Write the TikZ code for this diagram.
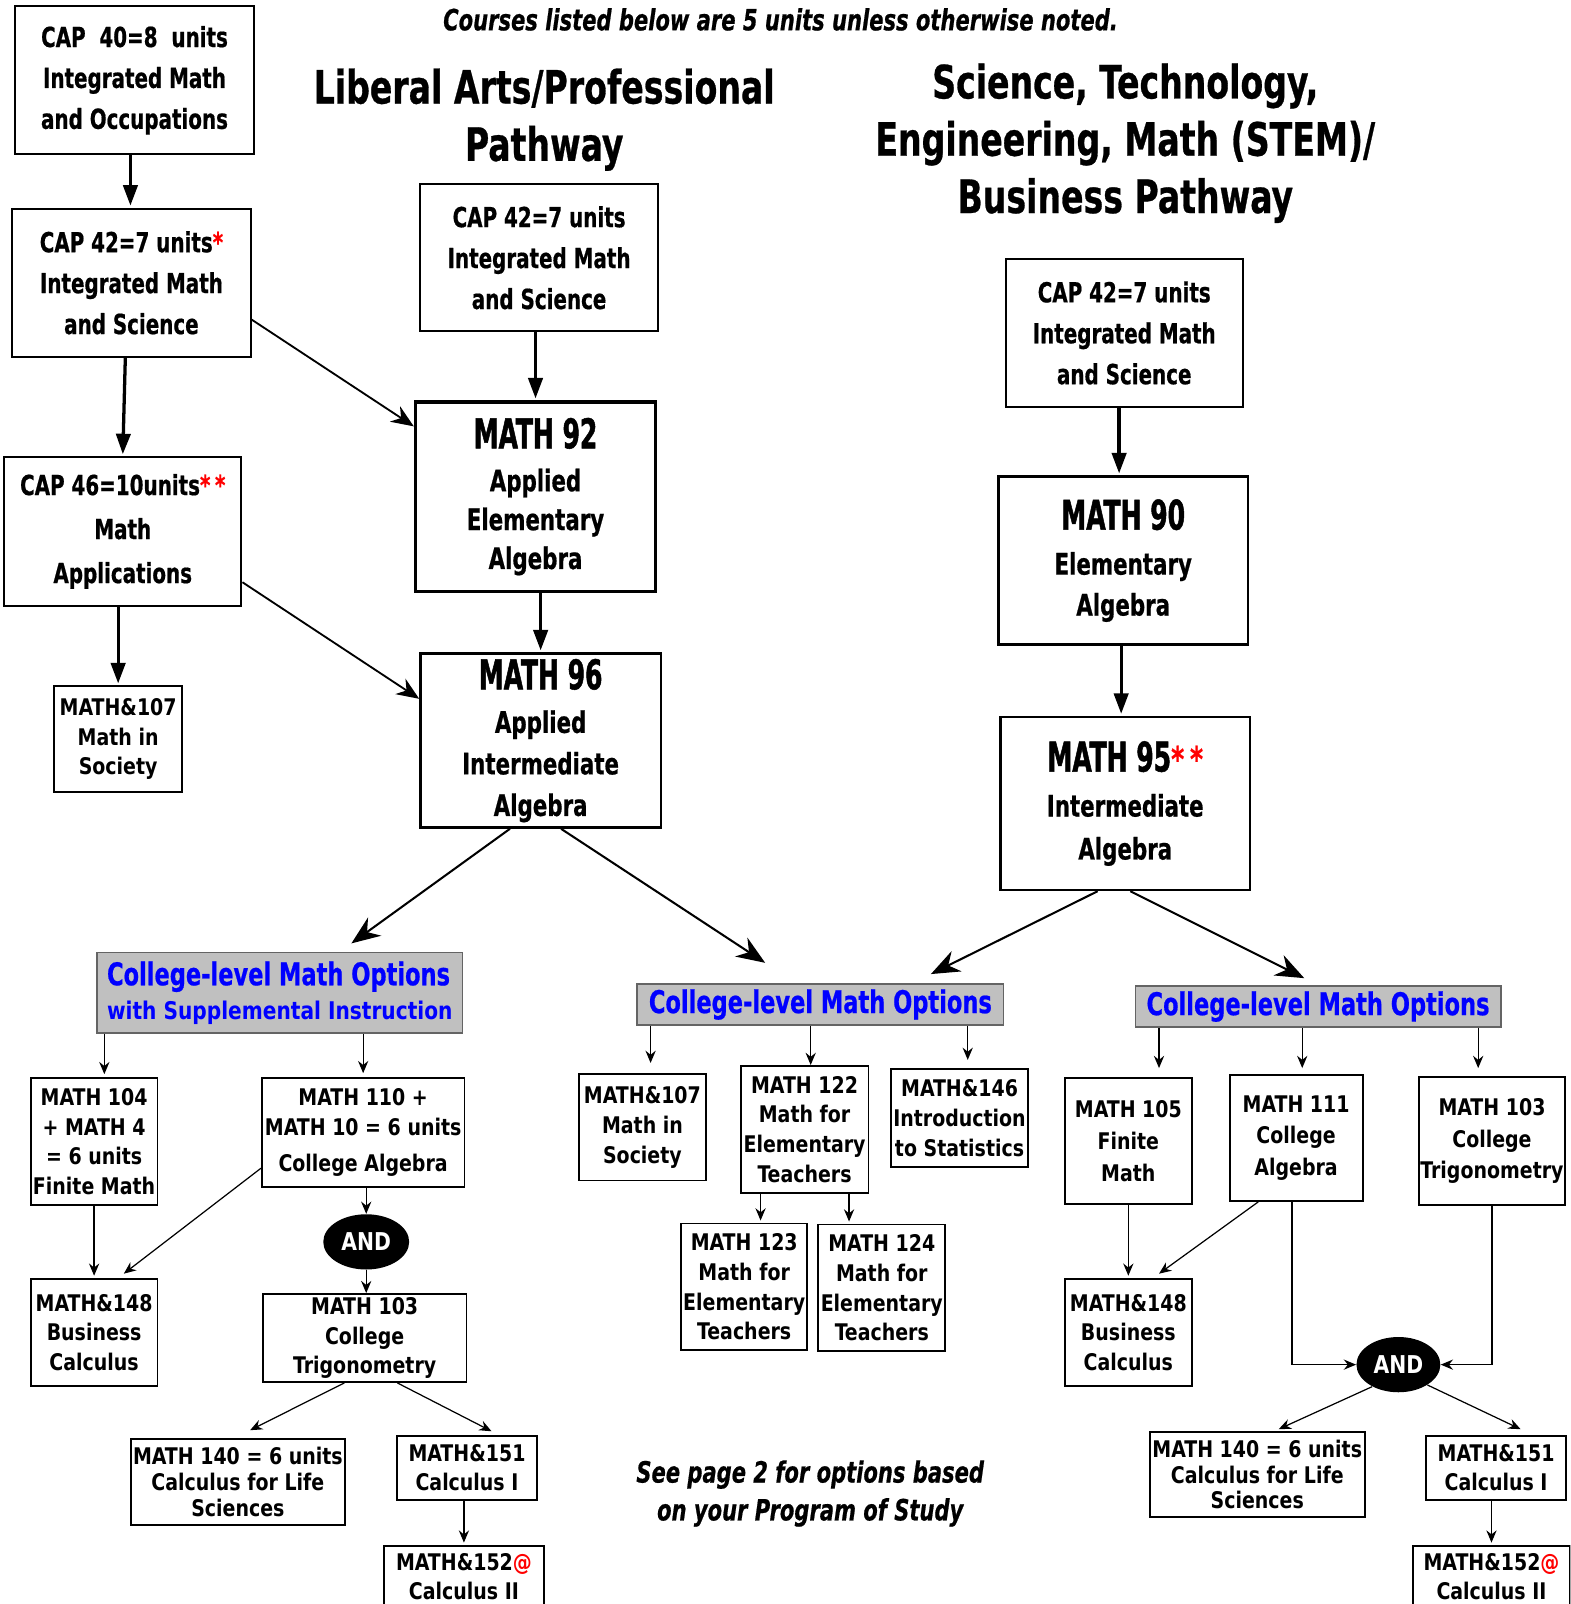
\documentclass[tikz,border=0pt]{standalone}
\usepackage{fontspec}
\usepackage{xcolor}
\usepackage{tikz}
\usetikzlibrary{shapes,arrows,positioning,calc,arrows.meta}

\newfontfamily\condfont[FakeStretch=0.8, FakeBold=0.6]{DejaVu Sans Condensed}
\newfontfamily\heavyfont[FakeStretch=0.68, FakeBold=1.2]{DejaVu Sans Condensed}
\newfontfamily\tahfont[FakeStretch=0.92]{DejaVu Sans Condensed}

\definecolor{optblue}{RGB}{0,0,255}
\definecolor{starred}{RGB}{255,0,0}
\definecolor{hdrgray}{RGB}{192,192,192}
\definecolor{hdrline}{RGB}{100,100,100}

\newcommand{\redstar}[1]{\textcolor{starred}{#1}}
\newcommand{\coursenum}[1]{{\heavyfont\fontsize{20}{20}\selectfont #1}}

\tikzset{
  capbox/.style={draw, line width=1pt, inner sep=0pt, align=center, font=\condfont\bfseries\fontsize{13.5}{20}\selectfont},
  bigbox/.style={draw, line width=1.5pt, inner sep=0pt, align=center, font=\condfont\bfseries\fontsize{14.5}{19}\selectfont},
  tahbox/.style={draw, line width=0.9pt, inner sep=0pt, align=center, font=\tahfont\bfseries\fontsize{11.2}{14.5}\selectfont},
  hdrbox/.style={draw=hdrline, fill=hdrgray, line width=0.8pt, inner sep=0pt, text=optblue, align=left, font=\condfont\bfseries\fontsize{15.3}{16.5}\selectfont},
  andbox/.style={ellipse, fill=black, text=white, inner sep=0pt, minimum width=42pt, minimum height=27pt, font=\tahfont\bfseries\fontsize{12}{12}\selectfont},
  bigarrow/.style={-{Triangle[length=10pt,width=7pt]}, line width=1.6pt, shorten >=1pt},
  slantarrow/.style={-{Stealth[length=11pt,width=9pt]}, line width=0.9pt},
  widearrow/.style={-{Stealth[length=14pt,width=11pt]}, line width=1pt},
  smallarrow/.style={-{Stealth[length=6pt,width=5pt,inset=2pt]}, line width=0.6pt},
}

\begin{document}
\begin{tikzpicture}[x=0.5pt, y=-0.5pt]
    \clip (0,0) rectangle (1535,1568);

    % headings
    \node [font=\condfont\bfseries\itshape\fontsize{14.3}{16}\selectfont] (courses) at (763,19) {Courses listed below are 5 units unless otherwise noted.};
    \node [align=center, font=\condfont\bfseries\fontsize{22.5}{28}\selectfont] (lapTitle) at (532,117) {Liberal Arts/Professional\\ Pathway};
    \node [align=center, font=\condfont\bfseries\fontsize{22.5}{28}\selectfont] (stemTitle) at (1100,140) {Science, Technology,\\ Engineering, Math (STEM)/\\ Business Pathway};

    % left column: CAP courses
    \node [capbox, minimum width=116.5pt, minimum height=72.5pt] (cap40) at (131.5,78.5) {CAP\ \ 40=8\ \ units\\ Integrated Math\\ and Occupations};
    \node [capbox, minimum width=116.5pt, minimum height=72.5pt] (cap42a) at (128.5,276.5) {CAP 42=7 units\redstar{*}\\ Integrated Math\\ and Science};
    \node [capbox, minimum width=116pt, minimum height=72.5pt, font=\condfont\bfseries\fontsize{13.5}{21.5}\selectfont] (cap46) at (120,519.5) {CAP 46{=}10units\redstar{*\,*}\\ Math\\ Applications};
    \node [tahbox, minimum width=62.5pt, minimum height=51.5pt] (lowSoc) at (115.5,722.5) {MATH\&107\\ Math in\\ Society};

    % liberal arts / professional pathway
    \node [capbox, minimum width=116pt, minimum height=72pt] (cap42b) at (527,252) {CAP 42=7 units\\ Integrated Math\\ and Science};
    \node [bigbox, minimum width=117.5pt, minimum height=92.5pt] (m92) at (523.5,485.5) {\coursenum{MATH 92}\\[2pt] Applied\\ Elementary\\ Algebra};
    \node [bigbox, line width=1.2pt, minimum width=117.5pt, minimum height=85pt, font=\condfont\bfseries\fontsize{14.5}{20.3}\selectfont] (m96) at (528.5,724) {\coursenum{MATH 96}\\[1pt] Applied\\ Intermediate\\ Algebra};

    % STEM / business pathway
    \node [capbox, minimum width=116pt, minimum height=72.5pt] (cap42c) at (1099,325.5) {CAP 42=7 units\\ Integrated Math\\ and Science};
    \node [bigbox, line width=1.2pt, minimum width=122pt, minimum height=82pt, font=\condfont\bfseries\fontsize{14.5}{20}\selectfont] (m90) at (1098,548) {\coursenum{MATH 90}\\[2pt] Elementary\\ Algebra};
    \node [bigbox, line width=1.2pt, minimum width=122pt, minimum height=84.5pt, font=\condfont\bfseries\fontsize{14.5}{21}\selectfont] (m95) at (1100,785.5) {\coursenum{MATH 95}\redstar{\fontsize{17}{17}\selectfont*\,*}\\[1pt] Intermediate\\ Algebra};

    % option headers
    \node [hdrbox, minimum width=178.5pt, minimum height=39.5pt] (suppHdr) at (273.5,970.5) {College-level Math Options\\ {\tahfont\fontsize{11.9}{16.5}\selectfont with Supplemental Instruction}};
    \node [hdrbox, minimum width=179pt, minimum height=20pt] (optHdrA) at (802,982) {College-level Math Options};
    \node [hdrbox, minimum width=178.5pt, minimum height=20pt] (optHdrB) at (1288.5,984) {College-level Math Options};

    % options with supplemental instruction
    \node [tahbox, minimum width=62pt, minimum height=62pt] (m104) at (92,1116) {MATH 104\\ + MATH 4\\ = 6 units\\ Finite Math};
    \node [tahbox, minimum width=99pt, minimum height=53pt] (m110) at (355,1107) {MATH 110 +\\ MATH 10 = 6 units\\[3pt] College Algebra};
    \node [andbox] (and1) at (358,1214) {AND};
    \node [tahbox, minimum width=62pt, minimum height=52.5pt] (m148a) at (92,1302.5) {MATH\&148\\ Business\\ Calculus};
    \node [tahbox, minimum width=99.5pt, minimum height=43pt] (m103a) at (356.5,1308) {MATH 103\\ College\\ Trigonometry};
    \node [tahbox, minimum width=104.5pt, minimum height=42pt, font=\tahfont\bfseries\fontsize{11.2}{12.75}\selectfont] (m140a) at (232.5,1449) {MATH 140 = 6 units\\ Calculus for Life\\ Sciences};
    \node [tahbox, minimum width=68.5pt, minimum height=31pt, font=\tahfont\bfseries\fontsize{11.2}{14}\selectfont] (m151a) at (456.5,1435) {MATH\&151\\ Calculus I};
    \node [tahbox, anchor=north, minimum width=78.5pt, inner ysep=4pt, font=\tahfont\bfseries\fontsize{11.2}{14}\selectfont] (m152a) at (453.5,1510) {MATH\&152\redstar{@}\\ Calculus II};

    % middle options
    \node [tahbox, minimum width=62pt, minimum height=52pt] (midSoc) at (628,1102) {MATH\&107\\ Math in\\ Society};
    \node [tahbox, minimum width=62.5pt, minimum height=62pt] (m122) at (786.5,1104) {MATH 122\\ Math for\\ Elementary\\ Teachers};
    \node [tahbox, minimum width=67pt, minimum height=48pt] (m146) at (938,1093) {MATH\&146\\ Introduction\\ to Statistics};
    \node [tahbox, minimum width=61.5pt, minimum height=62pt] (m123) at (727.5,1258) {MATH 123\\ Math for\\ Elementary\\ Teachers};
    \node [tahbox, minimum width=62pt, minimum height=62pt] (m124) at (862,1259) {MATH 124\\ Math for\\ Elementary\\ Teachers};
    \node [align=center, font=\condfont\bfseries\itshape\fontsize{14.3}{18.5}\selectfont] (note) at (792,1460) {See page 2 for options based\\ on your Program of Study};

    % right options
    \node [tahbox, minimum width=62pt, minimum height=61.5pt, font=\tahfont\bfseries\fontsize{11.2}{15.5}\selectfont] (m105) at (1103,1115.5) {MATH 105\\ Finite\\ Math};
    \node [tahbox, minimum width=65pt, minimum height=61.5pt, font=\tahfont\bfseries\fontsize{11.2}{15.5}\selectfont] (m111) at (1267,1112.5) {MATH 111\\ College\\ Algebra};
    \node [tahbox, minimum width=71.5pt, minimum height=62.5pt, font=\tahfont\bfseries\fontsize{11.2}{15.5}\selectfont] (m103b) at (1458.5,1115.5) {MATH 103\\ College\\ Trigonometry};
    \node [tahbox, minimum width=62pt, minimum height=52.5pt] (m148b) at (1103,1302.5) {MATH\&148\\ Business\\ Calculus};
    \node [andbox, minimum width=41pt] (and2) at (1367,1334) {AND};
    \node [tahbox, minimum width=105pt, minimum height=41.5pt, font=\tahfont\bfseries\fontsize{11.2}{12.5}\selectfont] (m140b) at (1229,1441.5) {MATH 140 = 6 units\\ Calculus for Life\\ Sciences};
    \node [tahbox, minimum width=68.5pt, minimum height=31pt, font=\tahfont\bfseries\fontsize{11.2}{14}\selectfont] (m151b) at (1462.5,1435) {MATH\&151\\ Calculus I};
    \node [tahbox, anchor=north, minimum width=77pt, inner ysep=4pt, font=\tahfont\bfseries\fontsize{11.2}{14}\selectfont] (m152b) at (1458,1510) {MATH\&152\redstar{@}\\ Calculus II};

    % pathway arrows
    \draw [bigarrow] ([xshift=-2pt]cap40.south) -- ([xshift=-2pt]cap40.south |- cap42a.north);
    \draw [bigarrow] ([xshift=-3pt]cap42a.south) -- (cap46.north);
    \draw [slantarrow] (cap42a.-17) -- (m92.150);
    \draw [bigarrow] (lowSoc.north |- cap46.south) -- (lowSoc.north);
    \draw [slantarrow] (cap46.-23) -- (m96.161);
    \draw [bigarrow] (m92.north |- cap42b.south) -- (m92.north);
    \draw [bigarrow] (m96.north |- m92.south) -- (m96.north);
    \draw [widearrow] ([xshift=-15pt]m96.south) -- ([xshift=35pt,yshift=4pt]suppHdr.north);
    \draw [widearrow] ([xshift=10pt]m96.south) -- ([xshift=-27pt,yshift=10pt]optHdrA.north);
    \draw [bigarrow] ([xshift=-2.5pt]cap42c.south) -- ([xshift=-2.5pt]cap42c.south |- m90.north);
    \draw [bigarrow] ([xshift=-1pt]m90.south) -- ([xshift=-1pt]m90.south |- m95.north);
    \draw [widearrow] ([xshift=-13.5pt]m95.south) -- ([xshift=54pt,yshift=4.5pt]optHdrA.north);
    \draw [widearrow] ([xshift=2.5pt]m95.south) -- ([xshift=-6.75pt,yshift=3.5pt]optHdrB.north);

    % option arrows, left
    \draw [smallarrow] ([xshift=5pt]m104.north |- suppHdr.south) -- ([xshift=5pt,yshift=1.5pt]m104.north);
    \draw [smallarrow] (m110.north |- suppHdr.south) -- ([yshift=2pt]m110.north);
    \draw [smallarrow] (m104.south) -- ([yshift=1pt]m148a.north);
    \draw [smallarrow] ([yshift=-17.5pt]m110.west) -- ([xshift=14.5pt,yshift=2pt]m148a.north);
    \draw [smallarrow] (and1.north |- m110.south) -- (and1.north);
    \draw [smallarrow] (and1.south) -- (and1.south |- m103a.north);
    \draw [smallarrow] ([xshift=-10pt]m103a.south) -- ([xshift=6pt,yshift=4pt]m140a.north);
    \draw [smallarrow] ([xshift=16pt]m103a.south) -- ([xshift=12pt,yshift=2pt]m151a.north);
    \draw [smallarrow] (m152a.north |- m151a.south) -- ([yshift=1pt]m152a.north);

    % option arrows, middle
    \draw [smallarrow] ([xshift=4pt]midSoc.north |- optHdrA.south) -- ([xshift=4pt,yshift=5pt]midSoc.north);
    \draw [smallarrow] ([xshift=3pt]m122.north |- optHdrA.south) -- ([xshift=3pt]m122.north);
    \draw [smallarrow] ([xshift=4pt]m146.north |- optHdrA.south) -- ([xshift=4pt,yshift=4pt]m146.north);
    \draw [smallarrow] ([xshift=8pt]m123.north |- m122.south) -- ([xshift=8pt,yshift=1pt]m123.north);
    \draw [smallarrow] ([xshift=-16pt]m124.north |- m122.south) -- ([xshift=-16pt,yshift=1pt]m124.north);

    % option arrows, right
    \draw [smallarrow] ([xshift=15pt]m105.north |- optHdrB.south) -- ([xshift=15pt,yshift=4.5pt]m105.north);
    \draw [smallarrow] ([xshift=3pt]m111.north |- optHdrB.south) -- ([xshift=3pt,yshift=3pt]m111.north);
    \draw [smallarrow] ([xshift=-6.75pt]m103b.north |- optHdrB.south) -- ([xshift=-6.75pt,yshift=4pt]m103b.north);
    \draw [smallarrow] (m105.south) -- ([yshift=1pt]m148b.north);
    \draw [smallarrow] ([xshift=-18.5pt]m111.south) -- ([xshift=15pt,yshift=2pt]m148b.north);
    \draw [smallarrow] ([xshift=-2pt]m111.south) |- (and2.west);
    \draw [smallarrow] (m103b.south) |- (and2.east);
    \draw [smallarrow] (and2.-140) -- ([xshift=10.5pt,yshift=1pt]m140b.north);
    \draw [smallarrow] (and2.-35) -- ([xshift=12pt,yshift=3pt]m151b.north);
    \draw [smallarrow] (m152b.north |- m151b.south) -- ([yshift=1pt]m152b.north);
\end{tikzpicture}
\end{document}
